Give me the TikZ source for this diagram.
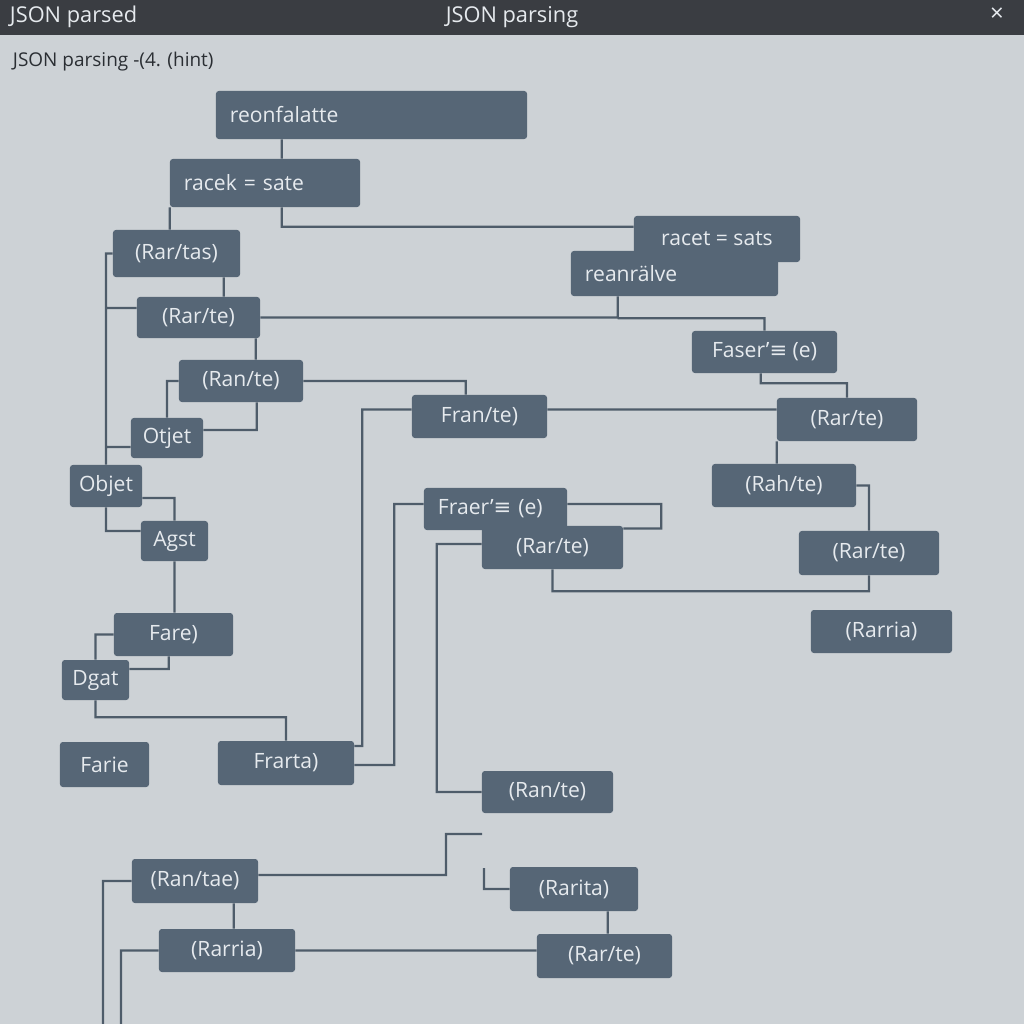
\documentclass[tikz,border=0pt]{standalone}
\usepackage{fontspec}
\setmainfont{Open Sans}
\newfontfamily\symfont{DejaVu Sans}
\usetikzlibrary{calc}

\definecolor{paper}{HTML}{CDD2D6}
\definecolor{titlebar}{HTML}{3A3D42}
\definecolor{boxfill}{HTML}{566676}
\definecolor{boxtext}{HTML}{E6EAEE}
\definecolor{wire}{HTML}{4E5C6A}
\definecolor{ink}{HTML}{2A2E33}

\begin{document}
\begin{tikzpicture}[x=0.025cm,y=-0.025cm,
  box node/.style={rectangle,rounded corners=2pt,fill=boxfill,text=boxtext,
  font=\fontsize{15}{17}\selectfont,inner sep=0pt},
  left node/.style={box node,align=left,inner xsep=0.35cm},
  wire/.style={draw=wire,line width=1.6pt}]

  \useasboundingbox (0,0) rectangle (1024,1024);
  \fill[paper] (0,0) rectangle (1024,1024);
  \fill[titlebar] (0,0) rectangle (1024,35);
  \node[anchor=west,text=boxtext,font=\fontsize{15.5}{17}\selectfont] (head) at (5,17) {JSON parsed};
  \node[text=boxtext,font=\fontsize{15.5}{17}\selectfont] (title) at (512,17) {JSON parsing};
  \node[text=boxtext,font=\fontsize{17}{17}\selectfont] (close) at (997,15) {×};
  \node[anchor=west,text=ink,font=\fontsize{13.5}{15}\selectfont] (hint) at (8,62) {JSON parsing -(4. (hint)};

  % upper tree
  \node[left node,text width=7.075cm,minimum height=1.2cm] (reon) at (371.5,115) {reonfalatte};
  \node[left node,text width=4.05cm,minimum height=1.2cm] (racek) at (265,183) {racek = sate};
  \node[box node,minimum width=3.175cm,minimum height=1.175cm] (tas) at (176.5,253.5) {(Rar/tas)};
  \node[box node,minimum width=3.075cm,minimum height=1.025cm] (te1) at (198.5,317.5) {(Rar/te)};
  \node[box node,minimum width=3.1cm,minimum height=1.05cm] (ran1) at (241,381) {(Ran/te)};
  \node[box node,minimum width=1.8cm,minimum height=1cm] (otjet) at (167,438) {Otjet};
  \node[box node,minimum width=3.375cm,minimum height=1.075cm] (fran) at (479.5,416.5) {Fran/te)};

  % right column
  \node[box node,minimum width=4.15cm,minimum height=1.15cm] (racet) at (717,239) {racet = sats};
  \node[left node,text width=4.475cm,minimum height=1.125cm] (reanr) at (674.5,273.5) {reanrälve};
  \node[box node,minimum width=3.625cm,minimum height=1.05cm] (faser) at (764.5,352) {Faser'{\symfont ≡} (e)};
  \node[box node,minimum width=3.5cm,minimum height=1.075cm] (te2) at (847,419.5) {(Rar/te)};
  \node[box node,minimum width=3.6cm,minimum height=1.075cm] (rah) at (784,485.5) {(Rah/te)};
  \node[box node,minimum width=3.5cm,minimum height=1.1cm] (te3) at (869,553) {(Rar/te)};
  \node[box node,minimum width=3.525cm,minimum height=1.075cm] (rarria) at (881.5,631.5) {(Rarria)};
  \node[left node,text width=2.875cm,minimum height=1.05cm] (fraer) at (495.5,509) {Fraer'{\symfont ≡} (e)};
  \node[box node,minimum width=3.525cm,minimum height=1.075cm] (te4) at (552.5,547.5) {(Rar/te)};

  % lower left
  \node[box node,minimum width=1.8cm,minimum height=1.05cm] (objet) at (106,486) {Objet};
  \node[box node,minimum width=1.675cm,minimum height=1cm] (agst) at (174.5,541) {Agst};
  \node[box node,minimum width=2.975cm,minimum height=1.075cm] (fare) at (173.5,634.5) {Fare)};
  \node[box node,minimum width=1.675cm,minimum height=1cm] (dgat) at (95.5,680) {Dgat};
  \node[box node,minimum width=2.225cm,minimum height=1.125cm] (farie) at (104.5,764.5) {Farie};
  \node[box node,minimum width=3.4cm,minimum height=1.1cm] (frarta) at (286,763) {Frarta)};
  \node[box node,minimum width=3.275cm,minimum height=1.05cm] (ran2) at (547.5,792) {(Ran/te)};

  % bottom
  \node[box node,minimum width=3.15cm,minimum height=1.1cm] (tae) at (195,881) {(Ran/tae)};
  \node[box node,minimum width=3.2cm,minimum height=1.1cm] (rarita) at (574,889) {(Rarita)};
  \node[box node,minimum width=3.4cm,minimum height=1.075cm] (rarria2) at (227,950.5) {(Rarria)};
  \node[box node,minimum width=3.375cm,minimum height=1.1cm] (te5) at (604.5,956) {(Rar/te)};

  \coordinate (loose1) at (482,834);
  \coordinate (loose2) at (484,868);
  \coordinate (tail1) at (103,1024);
  \coordinate (tail2) at (121,1024);

  \draw[wire]
    ($(reon.south west)+(66,0)$) -- ($(racek.north west)+(112,0)$)
    ($(racek.south west)+(112,0)$) |- ($(racet.north west)+(0,11)$)
    (racek.south west) -- (racek.south west |- tas.north)
    (tas.west) -| (objet.north)
    ($(te1.west)+(0,-9.5)$) -- ($(te1.west)+(-31,-9.5)$)
    ($(otjet.west)+(0,9)$) -- ($(otjet.west)+(-25,9)$)
    ($(tas.south west)+(111,0)$) -- ($(te1.north west)+(87,0)$)
    (te1.east) -| ($(reanr.south west)+(47,0)$)
    ($(reanr.south west)+(47,22)$) -| (faser.north)
    ($(te1.south west)+(119,0)$) -- ($(ran1.north west)+(77,0)$)
    (ran1.west) -| (otjet.north)
    ($(ran1.south west)+(78,0)$) |- ($(otjet.east)+(0,-8)$)
    (ran1.east) -| ($(fran.north west)+(54,0)$)
    ($(fran.west)+(0,-7)$) -| ($(frarta.east)+(8,-17)$) -- ($(frarta.east)+(0,-17)$)
    ($(fran.east)+(0,-7)$) -- ($(te2.west)+(0,-10)$)
    ($(faser.south west)+(69,0)$) -- ++(0,10) -| (te2.north)
    (te2.south west) -- (te2.south west |- rah.north)
    (rah.east) -| (te3.north)
    (te3.south) -- ++(0,16) -| (te4.south)
    ($(fraer.east)+(0,-5)$) -- ++(94,0) |- ($(te4.east)+(0,-19)$)
    ($(fraer.west)+(0,-5)$) -| ($(frarta.east)+(40,2)$) -- ($(frarta.east)+(0,2)$)
    ($(te4.west)+(0,-3.5)$) -- ++(-45,0) |- (ran2.west);

  \draw[wire]
    ($(objet.east)+(0,12)$) -| (agst.north)
    (objet.south) |- ($(agst.west)+(0,-10)$)
    (agst.south) -- (agst.south |- fare.north)
    (fare.west) -| (dgat.north)
    ($(fare.south west)+(55,0)$) |- ($(dgat.east)+(0,-11)$)
    (dgat.south) -- ++(0,17) -| (frarta.north)
    ($(tae.east)+(0,-6)$) -| ($(loose1)+(-36,0)$) -- (loose1)
    (loose2) |- (rarita.west)
    (tae.west) -| (tail1)
    ($(tae.south west)+(102,0)$) -- ($(rarria2.north west)+(75,0)$)
    (rarria2.west) -| (tail2)
    (rarria2.east) -- (rarria2.east -| te5.west)
    ($(rarita.south west)+(98,0)$) -- ($(te5.north west)+(71,0)$);
\end{tikzpicture}
\end{document}
